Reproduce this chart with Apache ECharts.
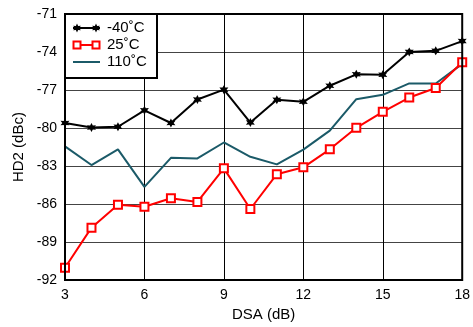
<!DOCTYPE html>
<html><head><meta charset="utf-8">
<script src="https://cdn.jsdelivr.net/npm/echarts@6/dist/echarts.min.js"></script>
<style>html,body{margin:0;padding:0;background:#fff}#c{width:473px;height:327px}</style>
</head><body><div id="c"></div>
<script>
const dsa = [3,4,5,6,7,8,9,10,11,12,13,14,15,16,17,18];
const tm40 = [-79.6,-79.95,-79.9,-78.6,-79.6,-77.75,-76.97,-79.57,-77.77,-77.93,-76.66,-75.76,-75.79,-73.99,-73.91,-73.14];
const t25 = [-91.03,-87.86,-86.06,-86.21,-85.54,-85.83,-83.18,-86.39,-83.64,-83.1,-81.68,-79.98,-78.72,-77.59,-76.84,-74.81];
const t110 = [-81.45,-82.92,-81.68,-84.64,-82.35,-82.4,-81.14,-82.27,-82.87,-81.7,-80.2,-77.72,-77.38,-76.48,-76.48,-74.94];
const seriesNames = ['-40˚C','25˚C','110˚C'];
const pair = a => dsa.map((x,i)=>[x,a[i]]);
const star = 'path://M0,-10 L2.6,-4.5 L8.7,-5 L5.2,0 L8.7,5 L2.6,4.5 L0,10 L-2.6,4.5 L-8.7,5 L-5.2,0 L-8.7,-5 L-2.6,-4.5 Z';
const starPts = (cx,cy,r)=>{const p=[];for(let i=0;i<12;i++){const a=-Math.PI/2+i*Math.PI/6;const rr=i%2?r*0.5:r;p.push([cx+rr*Math.cos(a),cy+rr*Math.sin(a)]);}return p;};
const font = 'Liberation Sans, Arial, sans-serif';
const colors = ['#000','#ff0000','#1b5a68'];
const lx0=73, lx1=100, rows=[28,45,62];
const graphic = [
  {type:'rect',shape:{x:65,y:14,width:92,height:64},style:{fill:'#fff',stroke:'#000',lineWidth:2},z:100},
];
rows.forEach((y,i)=>{
  graphic.push({type:'line',shape:{x1:lx0,y1:y,x2:lx1,y2:y},style:{stroke:colors[i],lineWidth:2},z:101});
  graphic.push({type:'text',x:107,y:y,style:{text:seriesNames[i],fill:'#000',font:'15px '+font,textVerticalAlign:'middle'},z:101});
});
[77,96].forEach(cx=>{
  graphic.push({type:'polygon',shape:{points:starPts(cx,rows[0],4.5)},style:{fill:'#000'},z:102});
  graphic.push({type:'rect',shape:{x:cx-3.5,y:rows[1]-3.5,width:7,height:7},style:{fill:'#fff',stroke:'#ff0000',lineWidth:2},z:102});
});
const chart = echarts.init(document.getElementById('c'));
chart.setOption({
  animation:false,
  backgroundColor:'#fff',
  graphic:graphic,
  grid:{left:65,right:8,top:14,bottom:41,show:true,borderColor:'#000',borderWidth:2,z:5},
  xAxis:{
    type:'value',min:3,max:18,interval:3,
    name:'DSA (dB)',nameLocation:'middle',nameGap:24,
    nameTextStyle:{fontFamily:font,fontSize:15,color:'#000'},
    axisLine:{show:false},axisTick:{show:false},
    axisLabel:{fontFamily:font,fontSize:14,color:'#000',margin:8},
    splitLine:{show:true,lineStyle:{color:'#000',width:1}}
  },
  yAxis:{
    type:'value',min:-92,max:-71,interval:3,
    name:'HD2 (dBc)',nameLocation:'middle',nameGap:38,
    nameTextStyle:{fontFamily:font,fontSize:15,color:'#000'},
    axisLine:{show:false},axisTick:{show:false},
    axisLabel:{fontFamily:font,fontSize:14,color:'#000',margin:8},
    splitLine:{show:true,lineStyle:{color:'#444',width:1}}
  },
  series:[
    {name:seriesNames[0],type:'line',data:pair(tm40),symbol:star,symbolSize:9,
     itemStyle:{color:'#000'},lineStyle:{color:'#000',width:2},z:4},
    {name:seriesNames[1],type:'line',data:pair(t25),symbol:'rect',symbolSize:8,
     itemStyle:{color:'#fff',borderColor:'#ff0000',borderWidth:2},lineStyle:{color:'#ff0000',width:2},z:3},
    {name:seriesNames[2],type:'line',data:pair(t110),symbol:'none',
     itemStyle:{color:'#1b5a68'},lineStyle:{color:'#1b5a68',width:2},z:2}
  ]
});
</script></body></html>
